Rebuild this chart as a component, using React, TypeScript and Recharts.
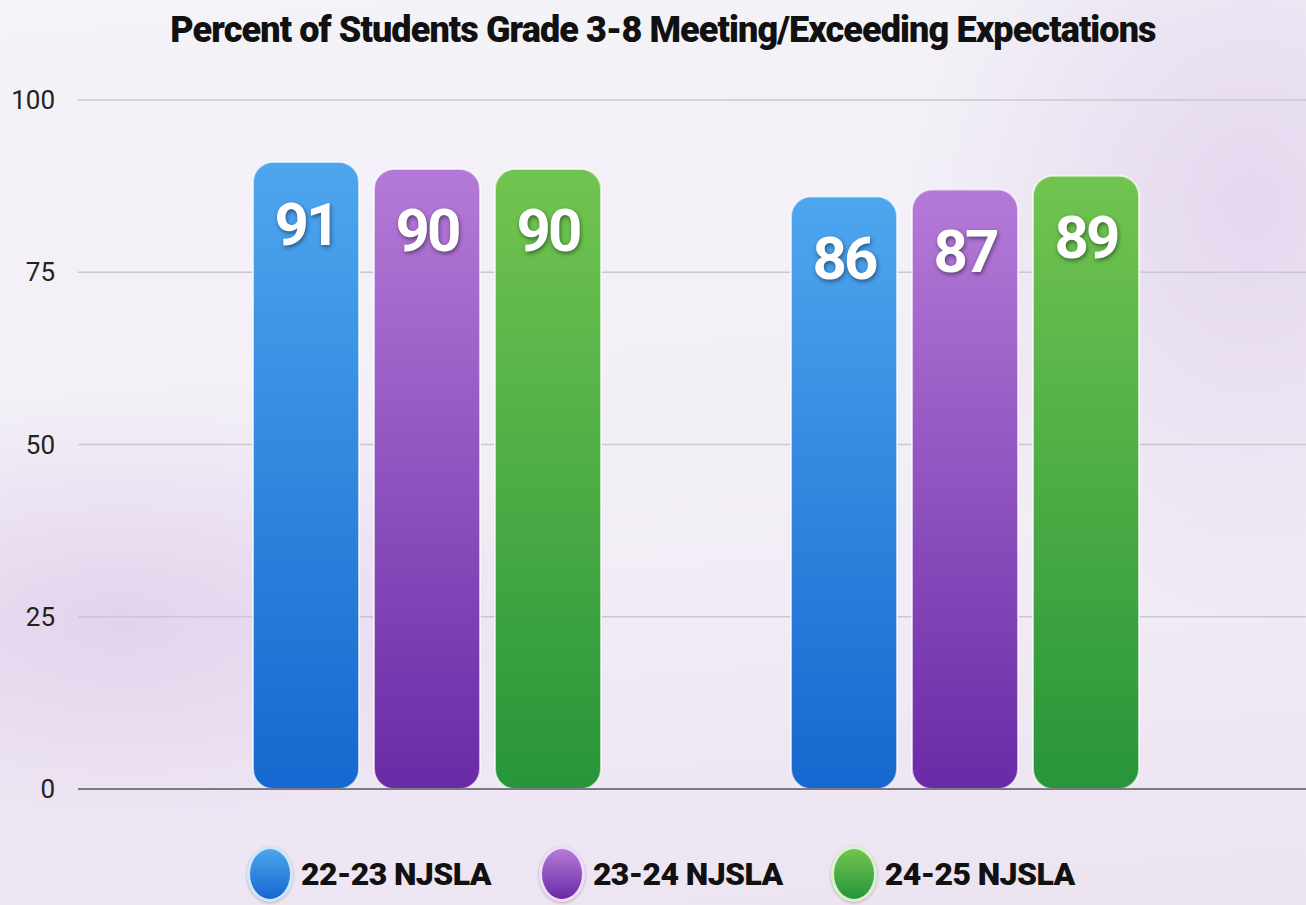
import React from 'react';
import { BarChart, Bar, XAxis, YAxis, CartesianGrid, ReferenceLine, LabelList } from 'recharts';

const title = 'Percent of Students Grade 3-8 Meeting/Exceeding Expectations';
const categories = ['Group 1', 'Group 2'];
const s2223 = [91, 86];
const s2324 = [90, 87];
const s2425 = [90, 89];
const yTicks = [0, 25, 50, 75, 100];

const seriesDefs = [
  { key: 's2223', name: '22-23 NJSLA', values: s2223, top: '#4ea6ee', bottom: '#1667cf', ring: '#cfe7fb' },
  { key: 's2324', name: '23-24 NJSLA', values: s2324, top: '#b57ad8', bottom: '#6a2aa6', ring: '#eedcf8' },
  { key: 's2425', name: '24-25 NJSLA', values: s2425, top: '#72c450', bottom: '#27953a', ring: '#d9f3cf' },
];

const data = categories.map((c, i) => {
  const row: any = { category: c };
  seriesDefs.forEach((s) => { row[s.key] = s.values[i]; });
  return row;
});

const renderLabel = (props: any) => {
  const { x, y, width, value } = props;
  return (
    <text
      x={x + width / 2}
      y={y + 62}
      textAnchor="middle"
      dominantBaseline="central"
      fill="#ffffff"
      fontFamily="Roboto, sans-serif"
      fontWeight={700}
      fontSize={60}
      letterSpacing={-3}
      style={{ filter: 'drop-shadow(1px 2px 2px rgba(0,0,0,0.45))' }}
    >
      {value}
    </text>
  );
};

export default function App() {
  return (
    <div
      style={{
        position: 'absolute',
        left: 0,
        top: 0,
        width: 1306,
        height: 905,
        overflow: 'hidden',
        background:
          'radial-gradient(ellipse 700px 320px at 120px 620px, rgba(214,190,230,0.55), rgba(214,190,230,0) 70%), radial-gradient(ellipse 500px 600px at 1250px 200px, rgba(210,185,228,0.45), rgba(210,185,228,0) 70%), linear-gradient(175deg, #f4f3f8 0%, #f2eef6 55%, #ece3f1 100%)',
        fontFamily: 'Roboto, sans-serif',
      }}
    >
      <div
        style={{
          position: 'absolute',
          top: 10,
          left: 10,
          width: 1306,
          textAlign: 'center',
          fontSize: 36,
          lineHeight: '40px',
          fontWeight: 900,
          color: '#111',
          letterSpacing: -0.9,
        }}
      >
        {title}
      </div>
      <div style={{ position: 'absolute', left: 0, top: 0 }}>
        <BarChart
          width={1306}
          height={905}
          data={data}
          margin={{ top: 100, right: 0, bottom: 116, left: 0 }}
          barGap={15}
          barSize={106}
        >
          <defs>
            {seriesDefs.map((s) => (
              <linearGradient key={s.key} id={`grad-${s.key}`} x1="0" y1="0" x2="0" y2="1">
                <stop offset="0%" stopColor={s.top} />
                <stop offset="100%" stopColor={s.bottom} />
              </linearGradient>
            ))}
          </defs>
          <CartesianGrid vertical={false} stroke="#c9c7cf" strokeWidth={1.5} />
          <XAxis dataKey="category" hide padding={{ left: 80, right: 72 }} />
          <YAxis
            domain={[0, 100]}
            ticks={yTicks}
            width={78}
            axisLine={false}
            tickLine={false}
            tickSize={0}
            tickMargin={23}
            tick={{ fill: '#222', fontSize: 26, fontFamily: 'Roboto, sans-serif' }}
          />
          <ReferenceLine y={0} stroke="#7c7a80" strokeWidth={2} />
          {seriesDefs.map((s) => (
            <Bar
              key={s.key}
              dataKey={s.key}
              name={s.name}
              fill={`url(#grad-${s.key})`}
              stroke="rgba(255,255,255,0.65)"
              strokeWidth={2}
              radius={20}
              isAnimationActive={false}
            >
              <LabelList dataKey={s.key} content={renderLabel} />
            </Bar>
          ))}
        </BarChart>
      </div>
      <div
        style={{
          position: 'absolute',
          left: 247,
          top: 846,
          display: 'flex',
          alignItems: 'center',
          gap: 48,
        }}
      >
        {seriesDefs.map((s) => (
          <div key={s.key} style={{ display: 'flex', alignItems: 'center', gap: 8 }}>
            <div
              style={{
                width: 40,
                height: 50,
                borderRadius: '50%',
                background: `linear-gradient(180deg, ${s.top}, ${s.bottom})`,
                border: `3px solid ${s.ring}`,
                boxShadow: '0 1px 3px rgba(0,0,0,0.25)',
              }}
            />
            <span style={{ fontSize: 32, fontWeight: 900, color: '#111', letterSpacing: -0.6 }}>{s.name}</span>
          </div>
        ))}
      </div>
    </div>
  );
}
